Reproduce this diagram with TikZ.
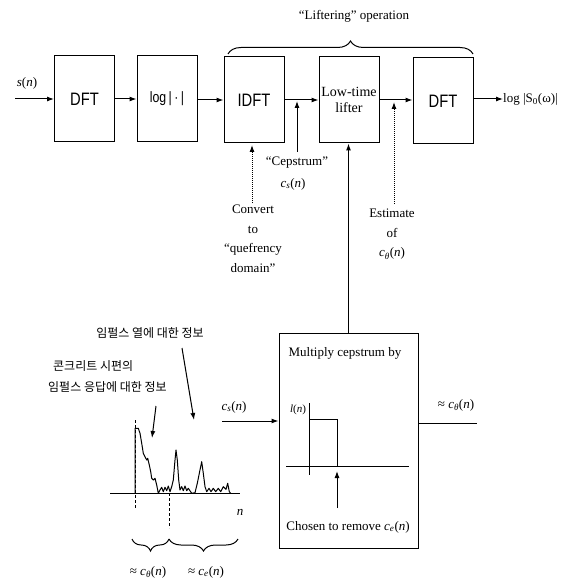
\documentclass[tikz,border=0pt]{standalone}
\usepackage{fontspec}
\setmainfont{Liberation Serif}
\newfontfamily\dftfont{Liberation Sans}[FakeStretch=0.82]
\newfontfamily\krfont{Noto Sans CJK KR}
\usetikzlibrary{arrows.meta,decorations.pathreplacing}
\newcommand{\vv}[2]{\textit{#1}\textsubscript{\textit{#2}}(\textit{n})}
\begin{document}
\begin{tikzpicture}[x=1pt,y=-1pt,
  blk/.style={draw,line width=1pt,minimum width=60pt,minimum height=86pt,inner sep=0pt},
  dftl/.style={font=\dftfont\fontsize{18}{20}\selectfont},
  serl/.style={font=\fontsize{14}{16}\selectfont,align=center},
  arr/.style={-{Latex[length=7pt,width=5pt]},line width=1pt},
  ln/.style={line width=1pt},
  txt/.style={font=\fontsize{13}{19.5}\selectfont,inner sep=0pt,align=center},
  kr/.style={font=\krfont\fontsize{12}{16}\selectfont,inner sep=0pt},
  brc/.style={decorate,line width=1pt},
]
\useasboundingbox (0,0) rectangle (573,585);

% top chain
\node[blk,dftl] (dft1) at (84.5,99) {DFT};
\node[blk,font=\dftfont\fontsize{15}{17}\selectfont] (logb) at (167,99) {log\,|\,·\,|};
\node[blk,dftl] (idft) at (254,100) {IDFT};
\node[blk,serl] (lift) at (349,100) {Low-time\\lifter};
\node[blk,dftl] (dft2) at (443,101) {DFT};

\coordinate (in) at (15,99);
\node[txt,font=\fontsize{13}{15}\selectfont] (sn) at (27,83) {\textit{s}(\textit{n})};
\node[txt,anchor=west,font=\fontsize{13}{15}\selectfont] (out) at (503,99) {log |S\textsubscript{0}(ω)|};

\draw[arr] (in) -- (dft1.west |- in);
\draw[arr] (dft1.east |- in) -- (logb.west |- in);
\draw[arr] (logb.east |- idft) -- (idft.west);
\draw[arr] (idft.east) -- (lift.west);
\draw[arr] (lift.east) -- (dft2.west |- lift.east);
\draw[arr] (dft2.east |- out) -- (out.west);

% brace
\draw[brc,decoration={brace,amplitude=13pt}] (228,54) -- (473,54);
\node[txt] (lifop) at (354,16) {“Liftering” operation};

% cepstrum arrow
\coordinate (cep0) at (297,152);
\coordinate (cep1) at (297,101);
\draw[arr] (cep0) -- (cep1);
\node[txt] (ceptxt) at (297,163) {“Cepstrum”};
\node[txt] (cstxt) at (293,184) {\vv{c}{s}};

% convert arrow
\node[txt,anchor=north] (conv) at (253,205) {Convert\\to\\“quefrency\\domain”};
\draw[arr,densely dotted] (conv.north -| idft.south) ++(-2,-2) -- ++(0,-58);

% estimate arrow
\node[txt,anchor=north] (est) at (392,209) {Estimate\\of\\\vv{c}{θ}};
\coordinate (est0) at (394,204);
\coordinate (est1) at (394,102);
\draw[arr,densely dotted] (est0) -- (est1);

% multiply box
\node[draw,line width=1pt,minimum width=139pt,minimum height=215pt,inner sep=0pt] (mult) at (348.5,440.5) {};
\draw[arr] (mult.north) -- (mult.north |- lift.south);
\node[txt] (multtxt) at (345,353) {Multiply cepstrum by};
\node[txt,font=\fontsize{11}{13}\selectfont] (ln) at (298,410) {\textit{l}(\textit{n})};
\coordinate (ax0) at (309,403);
\coordinate (ax1) at (309,475);
\draw[ln] (ax0) -- (ax1);
\coordinate (hx0) at (286,466);
\coordinate (hx1) at (409,466);
\draw[ln] (hx0) -- (hx1);
\coordinate (r0) at (309,419);
\coordinate (r1) at (337,466);
\draw[ln] (r0 |- r1) |- (r0 -| r1) -- (r1);
\coordinate (ch0) at (337,508);
\coordinate (ch1) at (337,471);
\draw[arr] (ch0) -- (ch1);
\node[txt] (chosen) at (348,527) {Chosen to remove \vv{c}{e}};

\coordinate (cin) at (222,421);
\node[txt] (cintxt) at (234,407) {\vv{c}{s}};
\draw[arr] (cin) -- (mult.west |- cin);
\coordinate (cout) at (477,423);
\draw[ln] (mult.east |- cout) -- (cout);
\node[txt] (couttxt) at (456,405) {≈ \vv{c}{θ}};

% cepstrum plot
\coordinate (pa0) at (110,493);
\coordinate (pa1) at (240,493);
\draw[ln] (pa0) -- (pa1);
\coordinate (pv0) at (135,420);
\coordinate (pv1) at (135,508);
\draw[line width=0.7pt,densely dashed] (pv0) -- (pv1);
\coordinate (pt0) at (169,493);
\coordinate (pt1) at (169,528);
\draw[line width=0.8pt,densely dashed] (pt0) -- (pt1);
\draw[line width=1pt,line join=round] plot coordinates {
(135,493.3) (135,428.3) (138.3,428.3) (140,433.3) (141.7,443.3) (143.3,453.3)
(145,456.7) (146.7,460) (147.7,458.3) (149.3,465) (150.7,471.7) (151.7,478.3)
(153.3,480) (155,478.3) (156.7,485) (158.3,493.3) (160,490) (161.7,487.3)
(163.3,491.7) (165,487.3) (166.7,490.7) (168.3,486) (170,491.7) (171.7,486.7)
(173.3,480) (175,460) (176,450) (177.3,460) (178.7,480) (180,490) (181.7,486.7)
(183.3,490.7) (185,486) (186.7,490.7) (188.3,488.3) (191.7,493.3) (195,492.7)
(197.3,483.3) (199.3,473.3) (201.7,461.7) (203.3,473.3) (205,486.7) (206.7,491.7)
(209,488.3) (211,491.7) (213.3,488.3) (215.7,491.7) (218.3,488.3) (220.7,491.7)
(223.3,486.7) (226,489.3) (227.7,483.3) (229.3,491.7) (230.7,493.3)};
\node[txt,font=\fontsize{13}{15}\selectfont\itshape] (nlab) at (240,512) {n};

\draw[brc,decoration={brace,mirror,amplitude=12pt}] (132,539) -- (169,539);
\draw[brc,decoration={brace,mirror,amplitude=12pt}] (169,539) -- (238,539);
\node[txt] (approxth) at (148,572) {≈ \vv{c}{θ}};
\node[txt] (approxe) at (206,572) {≈ \vv{c}{e}};

% Korean labels
\node[kr] (kr1) at (150,333) {임펄스 열에 대한 정보};
\node[kr,align=left,anchor=north west,font=\krfont\fontsize{12}{21}\selectfont] (kr2) at (48,360) {\hspace*{5pt}콘크리트 시편의\\임펄스 응답에 대한 정보};
\coordinate (k1a) at (182,348);
\coordinate (k1b) at (194,420);
\draw[arr] (k1a) -- (k1b);
\coordinate (k2a) at (156,406);
\coordinate (k2b) at (152,438);
\draw[arr] (k2a) -- (k2b);
\end{tikzpicture}
\end{document}
